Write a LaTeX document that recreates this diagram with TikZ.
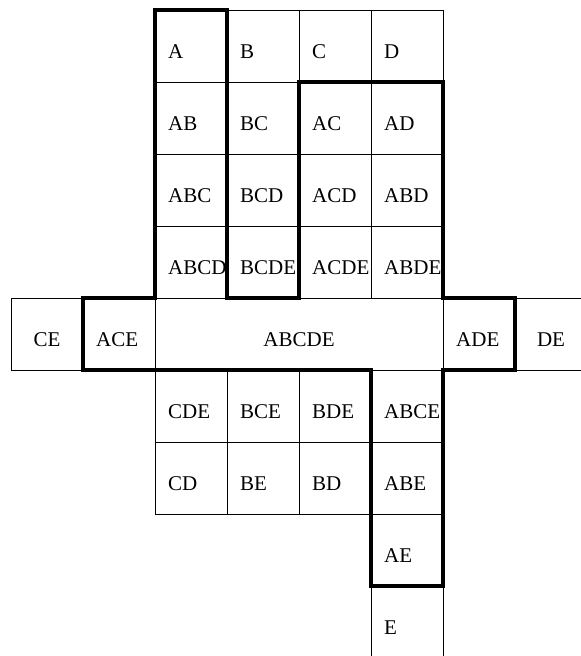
\documentclass[tikz,border=0pt]{standalone}
\usepackage{fontspec}
\setmainfont{Liberation Serif}
\begin{document}
\begin{tikzpicture}[x=1pt,y=-1pt,
  cellbox/.style={draw=black,line width=0.9pt},
  lbl/.style={anchor=base west,inner sep=0pt,font=\fontsize{21}{21}\selectfont},
  clbl/.style={anchor=base,inner sep=0pt,font=\fontsize{21}{21}\selectfont},
  thickline/.style={draw=black,line width=3.8pt,line join=miter}]
\useasboundingbox (0,0) rectangle (581,656);
\clip (0,0) rectangle (581,656);
\newcommand\mycell[4]{%
  \draw[cellbox] (#1,#2) rectangle ++(72,72);
  \node[lbl] (#3) at (#1+13,#2+48) {#4};}
% rows 0-3
\mycell{155}{10}{a}{A}
\mycell{227}{10}{b}{B}
\mycell{299}{10}{c}{C}
\mycell{371}{10}{d}{D}
\mycell{155}{82}{ab}{AB}
\mycell{227}{82}{bc}{BC}
\mycell{299}{82}{ac}{AC}
\mycell{371}{82}{ad}{AD}
\mycell{155}{154}{abc}{ABC}
\mycell{227}{154}{bcd}{BCD}
\mycell{299}{154}{acd}{ACD}
\mycell{371}{154}{abd}{ABD}
\mycell{155}{226}{abcd}{ABCD}
\mycell{227}{226}{bcde}{BCDE}
\mycell{299}{226}{acde}{ACDE}
\mycell{371}{226}{abde}{ABDE}
% row 4
\draw[cellbox] (11,298) rectangle ++(72,72);
\node[clbl] (ce) at (47,346) {CE};
\mycell{83}{298}{ace}{ACE}
\draw[cellbox] (155,298) rectangle (443,370);
\node[clbl] (abcde) at (299,346) {ABCDE};
\mycell{443}{298}{ade}{ADE}
\draw[cellbox] (515,298) rectangle ++(72,72);
\node[clbl] (de) at (551,346) {DE};
% rows 5-8
\mycell{155}{370}{cde}{CDE}
\mycell{227}{370}{bce}{BCE}
\mycell{299}{370}{bde}{BDE}
\mycell{371}{370}{abce}{ABCE}
\mycell{155}{442}{cd}{CD}
\mycell{227}{442}{be}{BE}
\mycell{299}{442}{bd}{BD}
\mycell{371}{442}{abe}{ABE}
\mycell{371}{514}{ae}{AE}
\mycell{371}{586}{e}{E}
% thick outline
\draw[thickline] (155,10) -- (227,10) -- (227,298) -- (299,298) -- (299,82)
  -- (443,82) -- (443,298) -- (515,298) -- (515,370) -- (443,370)
  -- (443,586) -- (371,586) -- (371,370) -- (83,370) -- (83,298)
  -- (155,298) -- cycle;
\end{tikzpicture}
\end{document}
